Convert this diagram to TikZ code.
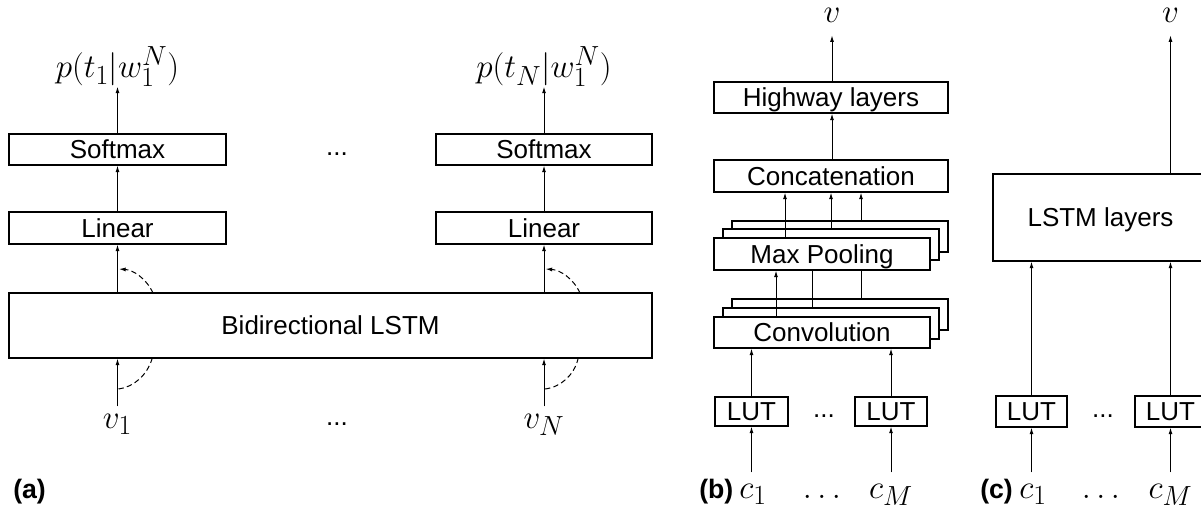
\documentclass[tikz,border=0pt]{standalone}
\usepackage[no-math]{fontspec}
\setmainfont{Liberation Sans}
\usetikzlibrary{arrows.meta}
\begin{document}
\begin{tikzpicture}[x=0.75pt,y=-0.75pt,
  box/.style={draw, line width=0.8pt, fill=white, inner sep=0pt,
    font=\fontsize{19.5}{23}\selectfont, text height=14pt, text depth=0pt},
  arr/.style={line width=0.75pt, -{Latex[length=5pt,width=3pt]}},
  plainline/.style={line width=0.75pt},
  dsh/.style={line width=0.75pt, dash pattern=on 4pt off 2.5pt},
  mlab/.style={inner sep=0pt, font=\fontsize{24.88}{30}\selectfont},
  txt/.style={inner sep=0pt, font=\fontsize{19.5}{23}\selectfont},
  plab/.style={inner sep=0pt, font=\fontsize{20}{24}\selectfont\bfseries}]
\clip (0,0) rectangle (1201,506);

% ---------- panel (a)
\node[box, minimum width=162.75pt, minimum height=23.25pt] (sm1) at (117.5,149.5) {Softmax};
\node[box, minimum width=162.75pt, minimum height=24pt] (ln1) at (117.5,228) {Linear};
\node[box, minimum width=162pt, minimum height=23.25pt] (sm2) at (544,149.5) {Softmax};
\node[box, minimum width=162pt, minimum height=24pt] (ln2) at (544,228) {Linear};
\node[box, minimum width=482.25pt, minimum height=48.75pt] (bl) at (330.5,325.5) {Bidirectional LSTM};

\node[mlab, anchor=base] (p1) at (117.5,78) {$p(t_1|w_1^N)$};
\node[mlab, anchor=base] (p2) at (544,78) {$p(t_N|w_1^N)$};
\node[mlab, anchor=base] (v1) at (117.5,428) {$v_1$};
\node[mlab, anchor=base] (vN) at (544,428) {$v_N$};
\node[txt, anchor=base] (d1) at (337,156) {...};
\node[txt, anchor=base] (d2) at (337,425) {...};
\node[plab, anchor=base west] (la) at (13,498) {(a)};

\draw[arr] (ln1.north) -- (sm1.south);
\draw[arr] (sm1.north) -- (p1.south);
\draw[arr] (bl.north -| ln1.north) -- (ln1.south);
\draw[arr] ([yshift=5.25pt]v1.north) -- (bl.south -| v1.north);
\draw[arr] (ln2.north) -- (sm2.south);
\draw[arr] (sm2.north) -- (p2.south);
\draw[arr] (bl.north -| ln2.north) -- (ln2.south);
\draw[arr] ([yshift=5.25pt]vN.north) -- (bl.south -| vN.north);

\coordinate (ta1) at (153,293);
\coordinate (te1) at (119,269);
\coordinate (bs1) at (118.5,389);
\coordinate (be1) at (152,359);
\coordinate (ta2) at (580,293);
\coordinate (te2) at (545.5,269);
\coordinate (bs2) at (545,389);
\coordinate (be2) at (578,359);
\draw[dsh, -{Latex[length=5pt,width=3pt]}] (ta1) .. controls (146,278) and (133,270) .. (te1);
\draw[dsh] (bs1) .. controls (134,387) and (147,375) .. (be1);
\draw[dsh, -{Latex[length=5pt,width=3pt]}] (ta2) .. controls (573,278) and (560,270) .. (te2);
\draw[dsh] (bs2) .. controls (561,387) and (574,375) .. (be2);

% ---------- panel (b)
\node[box, minimum width=175.5pt, minimum height=23.25pt] (hw) at (831,97.5) {Highway layers};
\node[box, minimum width=175.5pt, minimum height=24pt] (cc) at (831,176) {Concatenation};
\node[box, minimum width=162pt, minimum height=23.25pt] (mp3) at (840,236.5) {};
\node[box, minimum width=162pt, minimum height=23.25pt] (mp2) at (831,244.5) {};
\node[box, minimum width=162pt, minimum height=24pt] (mp1) at (822,254) {Max Pooling};
\node[box, minimum width=162pt, minimum height=23.25pt] (cv3) at (840,314.5) {};
\node[box, minimum width=162pt, minimum height=23.25pt] (cv2) at (831,323.5) {};
\node[box, minimum width=162pt, minimum height=23.25pt] (cv1) at (822,332.5) {Convolution};
\node[box, minimum width=54.75pt, minimum height=21.75pt] (lut1) at (751.5,411.5) {LUT};
\node[box, minimum width=54pt, minimum height=21.75pt] (lut2) at (891,411.5) {LUT};

\node[mlab, anchor=base] (vb) at (832,23) {$v$};
\node[mlab, anchor=base] (cb1) at (753,498) {$c_1$};
\node[mlab, anchor=base] (cbM) at (891,498) {$c_M$};
\node[mlab, anchor=base] (cbd) at (822,498) {$\dots$};
\node[txt, anchor=base] (bd) at (824,417) {...};
\node[plab, anchor=base west] (lb) at (699,498) {(b)};

\draw[arr] (hw.north -| vb.south) -- ([yshift=-9pt]vb.south);
\draw[arr] (cc.north -| vb.south) -- (hw.south -| vb.south);
\draw[arr] (mp1.north -| 785,0) -- (cc.south -| 785,0);
\draw[arr] (mp2.north -| 831,0) -- (cc.south -| 831,0);
\draw[arr] (mp3.north -| 861,0) -- (cc.south -| 861,0);
\draw[arr] (cv1.north -| 776,0) -- (mp1.south -| 776,0);
\draw[plainline] (cv2.north -| 812,0) -- (mp1.south -| 812,0);
\draw[plainline] (cv3.north -| 861,0) -- (mp1.south -| 861,0);
\draw[arr] (lut1.north) -- (lut1.north |- cv1.south);
\draw[arr] (lut2.north) -- (lut2.north |- cv1.south);
\draw[arr] ([yshift=8.25pt]cb1.north -| lut1.south) -- (lut1.south);
\draw[arr] ([yshift=8.25pt]cbM.north) -- (lut2.south);

% ---------- panel (c)
\node[box, minimum width=161.25pt, minimum height=65.25pt] (ls) at (1100.5,217.5) {LSTM layers};
\node[box, minimum width=53.25pt, minimum height=23.25pt] (lut3) at (1031.5,411.5) {LUT};
\node[box, minimum width=53.25pt, minimum height=23.25pt] (lut4) at (1170.5,411.5) {LUT};

\node[mlab, anchor=base] (vc) at (1170.5,23) {$v$};
\node[mlab, anchor=base] (cc1) at (1033,498) {$c_1$};
\node[mlab, anchor=base] (ccM) at (1170.5,498) {$c_M$};
\node[mlab, anchor=base] (ccd) at (1101,498) {$\dots$};
\node[txt, anchor=base] (cd) at (1103,417) {...};
\node[plab, anchor=base west] (lc) at (980,498) {(c)};

\draw[arr] (ls.north -| vc.south) -- ([yshift=-9pt]vc.south);
\draw[arr] (lut3.north) -- (lut3.north |- ls.south);
\draw[arr] (lut4.north) -- (lut4.north |- ls.south);
\draw[arr] ([yshift=8.25pt]cc1.north -| lut3.south) -- (lut3.south);
\draw[arr] ([yshift=8.25pt]ccM.north) -- (lut4.south);
\end{tikzpicture}
\end{document}
